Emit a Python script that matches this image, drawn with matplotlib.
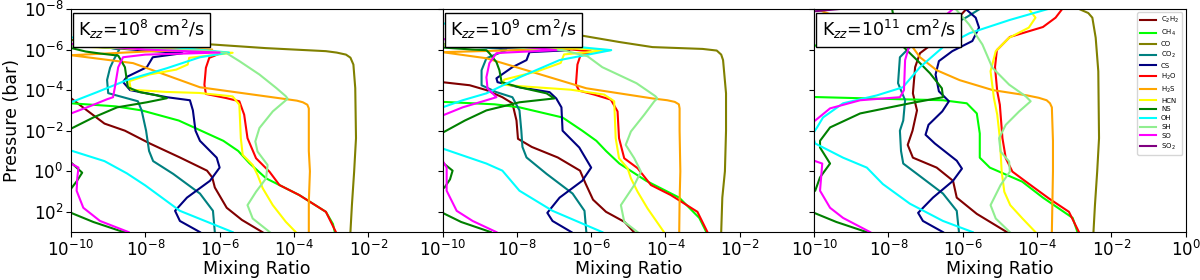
import matplotlib
matplotlib.use('Agg')
import matplotlib.pyplot as plt
import numpy as np
from matplotlib.ticker import NullLocator

# profiles: (log10 pressure [bar], log10 mixing ratio)
# values below -10 sit off the left edge of the plot

# ---- Kzz = 1e8 ----
c2h2_k8 = [(-3.7,-10.5),(-3.6,-10.0),(-3.15,-9.68),(-2.35,-9.1),(-2.0,-8.55),(-1.37,-7.88),(-0.68,-7.07),(-0.03,-6.34),(0.3,-6.2),(0.8,-6.13),(1.8,-5.81),(2.4,-5.4),(3.0,-4.85)]
ch4_k8 = [(-3.45,-10.5),(-3.35,-10.0),(-3.2,-8.8),(-3.0,-8.1),(-2.5,-7.1),(-2.0,-6.5),(-1.5,-5.9),(-1.0,-5.5),(-0.4,-5.2),(0.35,-4.75),(1.17,-3.86),(2.0,-3.14),(2.6,-2.95),(3.0,-2.9)]
co_k8 = [(-6.5,-10.5),(-6.35,-8.0),(-6.27,-6.37),(-6.07,-4.76),(-5.92,-3.14),(-5.85,-2.85),(-5.75,-2.6),(-5.6,-2.48),(-5.26,-2.4),(-4.1,-2.35),(-1.63,-2.33),(0.02,-2.38),(1.67,-2.44),(3.0,-2.48)]
co2_k8 = [(-6.3,-10.5),(-6.1,-9.0),(-6.0,-8.7),(-5.5,-8.85),(-5.1,-8.95),(-4.5,-9.03),(-3.85,-9.0),(-3.65,-8.6),(-3.45,-8.2),(-3.0,-8.1),(-2.0,-7.98),(-1.0,-7.9),(-0.5,-7.79),(0.13,-7.25),(1.1,-6.53),(1.95,-6.18),(3.0,-6.13)]
cs_k8 = [(-6.3,-10.5),(-5.95,-8.0),(-5.82,-7.0),(-5.62,-7.8),(-5.13,-7.96),(-4.65,-8.5),(-4.4,-8.6),(-4.0,-8.41),(-3.65,-7.42),(-3.5,-6.8),(-3.0,-6.72),(-2.0,-6.65),(-1.5,-6.53),(-0.67,-6.08),(-0.18,-6.0),(0.47,-6.26),(1.3,-6.88),(1.95,-7.2),(2.45,-7.07),(3.0,-6.53)]
h2o_k8 = [(-6.25,-10.5),(-5.95,-6.3),(-5.85,-6.0),(-5.76,-6.05),(-5.59,-6.28),(-5.1,-6.37),(-4.27,-6.41),(-3.81,-6.37),(-3.61,-5.83),(-3.45,-5.47),(-2.79,-5.34),(-1.63,-5.25),(-0.64,-5.02),(0.02,-4.66),(0.68,-4.39),(1.17,-3.86),(2.0,-3.14),(3.0,-2.87)]
h2s_k8 = [(-6.3,-10.5),(-6.0,-6.2),(-5.9,-8.0),(-5.72,-10.0),(-5.33,-8.33),(-4.14,-6.53),(-3.55,-4.19),(-3.48,-3.92),(-3.4,-3.76),(-3.28,-3.64),(-3.1,-3.6),(-1.0,-3.6),(0.0,-3.57),(1.5,-3.6),(3.0,-3.6)]
hcn_k8 = [(-6.2,-10.5),(-5.9,-6.5),(-5.84,-5.65),(-5.59,-6.82),(-5.26,-6.86),(-5.01,-7.17),(-4.77,-7.89),(-4.44,-8.43),(-4.02,-8.39),(-3.91,-7.44),(-3.86,-6.55),(-3.69,-5.65),(-3.28,-5.47),(-1.63,-5.43),(-0.81,-5.38),(-0.31,-5.11),(0.18,-4.98),(0.84,-4.84),(1.67,-4.57),(2.49,-4.22),(3.0,-3.95)]
ns_k8 = [(-6.3,-10.5),(-5.9,-9.6),(-5.8,-9.2),(-5.7,-8.73),(-5.13,-8.55),(-4.14,-8.47),(-3.9,-8.15),(-3.74,-7.69),(-3.6,-7.42),(-3.4,-7.96),(-3.15,-8.76),(-2.65,-9.4),(-2.1,-10.0),(-1.5,-11.0),(-0.6,-10.3),(-0.43,-10.0),(0.07,-9.7),(0.5,-9.85),(0.86,-10.0),(1.4,-10.6),(2.05,-10.0),(2.5,-9.4),(2.94,-8.68),(3.0,-8.55)]
oh_k8 = [(-6.6,-10.0),(-6.3,-8.3),(-5.85,-5.75),(-5.62,-6.53),(-5.08,-7.42),(-4.49,-8.5),(-3.9,-9.3),(-3.4,-10.0),(-2.0,-11.0),(-1.1,-10.2),(-1.02,-10.0),(-0.5,-9.1),(0.1,-8.5),(0.7,-8.0),(1.95,-7.07),(2.94,-5.73),(3.0,-5.65)]
sh_k8 = [(-6.2,-10.5),(-5.95,-6.5),(-5.84,-5.83),(-5.43,-5.47),(-4.77,-4.93),(-4.11,-4.48),(-3.7,-4.22),(-3.58,-4.17),(-3.45,-4.25),(-2.95,-4.57),(-2.13,-4.93),(-1.47,-5.04),(-0.97,-4.98),(-0.31,-4.71),(0.35,-4.75),(1.01,-5.02),(1.67,-5.25),(2.33,-5.11),(3.0,-4.65)]
so_k8 = [(-6.35,-10.5),(-6.0,-8.0),(-5.85,-6.0),(-5.75,-8.0),(-5.62,-8.6),(-5.13,-8.73),(-4.14,-8.82),(-3.65,-8.87),(-3.55,-9.03),(-3.2,-9.5),(-2.85,-10.0),(-1.5,-11.0),(-0.5,-10.2),(-0.38,-10.0),(-0.18,-9.8),(0.3,-9.83),(0.96,-9.85),(1.8,-9.67),(2.45,-9.22),(3.0,-8.45)]
so2_k8 = [(-6.3,-12.0),(3.0,-12.0)]

# ---- Kzz = 1e9 ----
c2h2_k9 = [(-4.5,-10.5),(-4.39,-10.0),(-4.24,-9.27),(-4.0,-8.82),(-3.65,-8.39),(-3.35,-8.12),(-2.5,-8.01),(-1.6,-7.97),(-1.2,-7.6),(-0.68,-6.9),(-0.03,-6.3),(0.61,-6.15),(1.4,-5.95),(2.0,-5.6),(2.5,-5.1),(3.0,-4.85)]
ch4_k9 = [(-3.5,-10.5),(-3.42,-10.0),(-3.3,-8.6),(-3.15,-7.93),(-2.65,-6.77),(-2.0,-6.24),(-1.5,-5.86),(-1.0,-5.6),(-0.38,-5.24),(0.47,-4.52),(1.3,-3.63),(2.3,-3.09),(3.0,-2.9)]
co_k9 = [(-7.3,-8.0),(-6.78,-6.55),(-6.37,-5.24),(-6.12,-4.35),(-6.03,-3.0),(-5.95,-2.62),(-5.75,-2.5),(-5.48,-2.45),(-3.84,-2.37),(-2.0,-2.37),(0.0,-2.4),(1.3,-2.47),(3.0,-2.5)]
co2_k9 = [(-6.3,-10.5),(-6.05,-8.5),(-5.97,-8.28),(-5.57,-8.82),(-4.98,-8.95),(-4.24,-8.95),(-3.9,-8.55),(-3.65,-8.12),(-3.0,-7.93),(-2.0,-7.88),(-1.2,-7.85),(-0.68,-7.74),(0.13,-7.2),(1.1,-6.5),(1.95,-6.18),(3.0,-6.13)]
cs_k9 = [(-6.3,-10.5),(-6.05,-8.0),(-5.97,-6.59),(-5.87,-7.66),(-5.48,-7.74),(-5.13,-8.12),(-4.58,-8.55),(-4.39,-8.52),(-4.14,-7.93),(-3.9,-7.12),(-3.59,-6.94),(-3.15,-6.8),(-2.0,-6.77),(-1.17,-6.32),(-0.18,-6.0),(0.47,-6.24),(1.3,-6.85),(2.05,-7.18),(2.45,-7.04),(3.0,-6.53)]
h2o_k9 = [(-6.3,-10.5),(-6.0,-6.5),(-5.9,-6.0),(-5.84,-6.05),(-5.76,-6.28),(-5.26,-6.37),(-4.27,-6.41),(-3.97,-6.32),(-3.78,-5.92),(-3.53,-5.47),(-2.95,-5.29),(-1.63,-5.25),(-0.64,-5.11),(-0.15,-4.75),(0.68,-4.39),(1.17,-3.86),(2.0,-3.14),(3.0,-2.87)]
h2s_k9 = [(-6.3,-10.5),(-6.05,-6.5),(-5.97,-8.0),(-5.87,-10.0),(-5.57,-8.82),(-4.83,-7.47),(-4.09,-6.13),(-3.59,-4.35),(-3.5,-3.95),(-3.42,-3.75),(-3.3,-3.64),(-3.1,-3.62),(-2.0,-3.62),(0.0,-3.6),(1.5,-3.62),(3.0,-3.63)]
hcn_k9 = [(-6.25,-10.5),(-6.05,-6.5),(-5.97,-5.47),(-5.76,-6.73),(-5.34,-6.82),(-4.93,-7.44),(-4.52,-8.34),(-4.27,-8.39),(-4.19,-7.89),(-4.02,-6.55),(-3.78,-5.65),(-3.45,-5.38),(-1.63,-5.34),(-0.64,-5.25),(-0.15,-5.02),(0.35,-4.93),(1.01,-4.75),(1.84,-4.48),(3.0,-4.04)]
ns_k9 = [(-6.3,-10.5),(-6.1,-10.0),(-6.0,-9.2),(-5.97,-8.82),(-5.82,-8.74),(-5.38,-8.55),(-4.98,-8.47),(-4.39,-8.41),(-4.14,-7.93),(-3.84,-7.2),(-3.59,-6.99),(-3.4,-7.93),(-3.0,-8.82),(-2.5,-9.4),(-1.9,-10.0),(-1.2,-11.0),(-0.55,-10.3),(-0.43,-10.0),(-0.03,-9.73),(0.4,-9.8),(0.81,-9.95),(1.0,-10.5),(1.9,-10.2),(2.05,-10.0),(2.5,-9.5),(3.0,-8.7)]
oh_k9 = [(-7.4,-10.5),(-7.3,-10.0),(-6.32,-7.47),(-5.97,-5.46),(-5.48,-6.85),(-4.63,-7.93),(-3.84,-8.82),(-3.5,-9.46),(-3.15,-10.0),(-2.0,-11.0),(-1.2,-10.2),(-1.12,-10.0),(-0.38,-8.82),(-0.03,-8.39),(0.96,-7.93),(1.95,-7.04),(3.0,-5.7)]
sh_k9 = [(-6.3,-10.5),(-6.05,-7.5),(-5.97,-6.77),(-5.67,-6.1),(-5.13,-5.7),(-4.34,-4.78),(-3.7,-4.27),(-3.59,-4.22),(-3.45,-4.3),(-2.79,-4.57),(-1.96,-4.93),(-1.3,-5.07),(-0.64,-4.84),(0.02,-4.66),(0.68,-4.84),(1.67,-5.2),(2.49,-5.11),(3.0,-4.75)]
so_k9 = [(-6.6,-10.5),(-6.5,-9.9),(-5.97,-6.94),(-5.85,-8.3),(-5.82,-8.55),(-5.33,-8.74),(-4.63,-8.82),(-4.09,-8.79),(-3.65,-8.55),(-3.5,-8.82),(-3.15,-9.46),(-2.75,-10.0),(-1.5,-11.0),(-0.6,-10.2),(-0.52,-10.0),(-0.18,-9.89),(0.96,-9.89),(1.95,-9.62),(2.45,-9.19),(3.0,-8.55)]
so2_k9 = [(-6.3,-12.0),(3.0,-12.0)]

# ---- Kzz = 1e11 ----
c2h2_k11 = [(-8.0,-5.9),(-7.6,-6.1),(-6.57,-6.59),(-6.3,-6.8),(-5.82,-7.15),(-5.13,-7.28),(-3.84,-7.34),(-3.0,-7.23),(-2.0,-7.35),(-1.3,-7.48),(-0.67,-7.34),(-0.18,-6.7),(0.47,-6.26),(1.3,-6.16),(2.1,-5.62),(3.0,-4.81)]
ch4_k11 = [(-7.2,-8.5),(-6.62,-9.38),(-6.22,-9.92),(-6.0,-10.3),(-4.5,-11.0),(-3.66,-10.0),(-3.58,-8.34),(-3.5,-6.53),(-3.35,-5.89),(-2.85,-5.62),(-1.86,-5.54),(-0.67,-5.54),(-0.18,-5.27),(0.51,-4.4),(1.3,-3.84),(2.3,-3.04),(3.0,-2.91)]
co_k11 = [(-8.0,-2.87),(-7.8,-2.62),(-7.57,-2.51),(-6.58,-2.42),(-4.93,-2.35),(-1.63,-2.33),(0.02,-2.38),(1.67,-2.44),(3.0,-2.48)]
co2_k11 = [(-8.0,-5.54),(-7.6,-5.89),(-7.0,-6.5),(-6.12,-7.42),(-5.62,-7.69),(-4.34,-7.74),(-3.5,-7.55),(-2.5,-7.6),(-2.0,-7.69),(-1.0,-7.66),(-0.38,-7.6),(0.13,-7.23),(1.1,-6.53),(1.95,-6.16),(3.0,-6.1)]
cs_k11 = [(-8.0,-5.92),(-7.57,-5.65),(-7.08,-5.56),(-6.42,-5.74),(-5.92,-6.28),(-5.43,-6.64),(-4.77,-6.73),(-3.94,-6.64),(-3.45,-6.37),(-2.95,-6.55),(-2.29,-6.92),(-1.8,-7.0),(-1.37,-6.75),(-0.52,-6.16),(-0.13,-6.02),(0.47,-6.26),(1.3,-6.8),(2.05,-7.2),(2.45,-7.07),(3.0,-6.53)]
h2o_k11 = [(-8.0,-3.32),(-7.57,-3.5),(-7.11,-3.84),(-6.62,-4.73),(-5.97,-5.08),(-5.13,-5.13),(-3.94,-5.07),(-3.28,-5.0),(-1.63,-4.93),(-0.64,-4.84),(0.02,-4.66),(0.51,-4.3),(1.34,-3.68),(2.0,-3.14),(3.0,-2.87)]
h2s_k11 = [(-8.0,-9.95),(-6.3,-7.42),(-5.62,-7.15),(-4.98,-6.7),(-4.49,-6.08),(-4.0,-5.19),(-3.74,-4.27),(-3.62,-3.95),(-3.5,-3.74),(-3.35,-3.65),(-3.15,-3.6),(-1.5,-3.57),(0.0,-3.57),(3.0,-3.6)]
hcn_k11 = [(-8.0,-4.22),(-7.57,-4.04),(-7.08,-4.22),(-6.58,-4.75),(-5.92,-5.11),(-4.93,-5.25),(-3.61,-5.16),(-2.79,-5.07),(-1.63,-5.0),(0.02,-4.95),(1.01,-4.88),(1.67,-4.72),(2.33,-4.39),(3.0,-4.04)]
ns_k11 = [(-8.0,-7.9),(-7.0,-7.8),(-6.3,-7.69),(-5.48,-7.23),(-4.83,-6.88),(-4.09,-6.56),(-3.65,-6.53),(-3.35,-7.42),(-2.85,-8.76),(-2.16,-9.57),(-1.5,-9.84),(-1.17,-9.84),(-0.38,-9.57),(0.3,-9.84),(0.96,-9.97),(1.5,-10.5),(2.05,-10.0),(2.5,-9.4),(2.94,-8.68),(3.0,-8.55)]
oh_k11 = [(-8.0,-3.7),(-7.46,-4.73),(-6.81,-5.81),(-6.12,-6.53),(-5.13,-7.15),(-4.14,-7.61),(-3.74,-8.31),(-3.35,-9.22),(-2.65,-9.76),(-2.16,-9.92),(-1.8,-10.05),(-1.37,-9.97),(-0.67,-9.22),(-0.18,-8.58),(0.63,-8.15),(1.6,-7.42),(2.45,-6.53),(3.0,-5.73)]
sh_k11 = [(-8.0,-6.19),(-7.24,-5.83),(-6.25,-5.47),(-5.1,-5.2),(-4.27,-4.75),(-3.69,-4.3),(-3.45,-4.17),(-2.95,-4.48),(-2.29,-4.84),(-1.63,-5.02),(-0.97,-4.98),(-0.48,-4.75),(0.02,-4.73),(0.68,-4.98),(1.67,-5.25),(2.33,-5.11),(3.0,-4.73)]
so_k11 = [(-8.0,-6.26),(-7.0,-6.9),(-6.3,-7.42),(-5.48,-7.55),(-4.0,-7.58),(-3.65,-7.69),(-3.5,-8.76),(-3.1,-9.57),(-2.5,-9.97),(-2.0,-10.5),(-0.6,-10.2),(-0.52,-10.0),(-0.38,-9.78),(0.96,-9.84),(1.8,-9.57),(2.3,-9.22),(3.0,-8.49)]
so2_k11 = [(-8.0,-9.3),(-7.8,-10.5),(3.0,-12.0)]

labels = [r'C$_2$H$_2$', r'CH$_4$', 'CO', r'CO$_2$', 'CS', r'H$_2$O', r'H$_2$S', 'HCN', 'NS', 'OH', 'SH', 'SO', r'SO$_2$']
colors = ['maroon', 'lime', 'olive', 'teal', 'navy', 'red', 'orange', 'yellow', 'green', 'cyan', 'lightgreen', 'magenta', 'purple']
kzz_text = [r'K$_{zz}$=10$^{8}$ cm$^2$/s', r'K$_{zz}$=10$^{9}$ cm$^2$/s', r'K$_{zz}$=10$^{11}$ cm$^2$/s']

panels = [
    [c2h2_k8, ch4_k8, co_k8, co2_k8, cs_k8, h2o_k8, h2s_k8, hcn_k8, ns_k8, oh_k8, sh_k8, so_k8, so2_k8],
    [c2h2_k9, ch4_k9, co_k9, co2_k9, cs_k9, h2o_k9, h2s_k9, hcn_k9, ns_k9, oh_k9, sh_k9, so_k9, so2_k9],
    [c2h2_k11, ch4_k11, co_k11, co2_k11, cs_k11, h2o_k11, h2s_k11, hcn_k11, ns_k11, oh_k11, sh_k11, so_k11, so2_k11],
]

fig, axes = plt.subplots(1, 3, figsize=(12, 2.8), dpi=100, sharey=True)
fig.subplots_adjust(left=0.0592, right=0.988, top=0.968, bottom=0.171, wspace=0)

for i, ax in enumerate(axes):
    for prof, lab, col in zip(panels[i], labels, colors):
        arr = np.array(prof)
        ax.plot(10**arr[:, 1], 10**arr[:, 0], color=col, lw=1.5, label=lab)
    ax.set_xscale('log')
    ax.set_yscale('log')
    ax.set_xlim(1e-10, 1)
    ax.set_ylim(1e3, 1e-8)
    if i == 2:
        ax.set_xticks([1e-10, 1e-8, 1e-6, 1e-4, 1e-2, 1])
    else:
        ax.set_xticks([1e-10, 1e-8, 1e-6, 1e-4, 1e-2])
    ax.set_yticks([1e-8, 1e-6, 1e-4, 1e-2, 1, 1e2])
    ax.xaxis.set_minor_locator(NullLocator())
    ax.yaxis.set_minor_locator(NullLocator())
    ax.tick_params(labelsize=12, pad=2)
    ax.set_xlabel('Mixing Ratio', fontsize=12.5, labelpad=0)
    ax.text(0.02, 0.958, kzz_text[i], transform=ax.transAxes, fontsize=12.5,
            va='top', ha='left',
            bbox=dict(boxstyle='square,pad=0.3', fc='white', ec='black'))

axes[0].set_ylabel('Pressure (bar)', fontsize=12.5, labelpad=2)
axes[2].legend(loc='upper right', fontsize=5, labelspacing=0.4, handlelength=2.2)

fig.savefig('out.png', dpi=100)
